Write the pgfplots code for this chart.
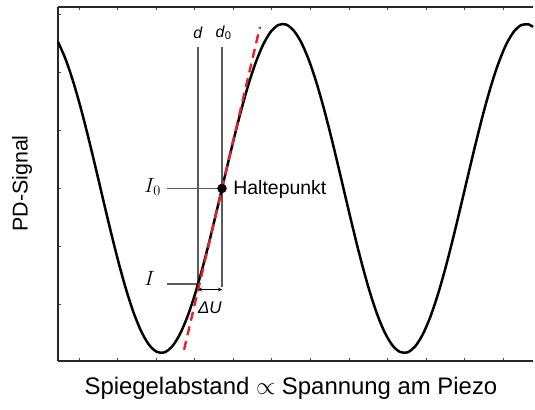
\documentclass[border=0pt]{standalone}
\usepackage{fontspec}
\setmainfont{Liberation Sans}
\usepackage{pgfplots}
\pgfplotsset{compat=1.18}

\definecolor{guide}{HTML}{5A5A5A}
\definecolor{tangentred}{HTML}{E8202A}

\begin{document}
\begin{tikzpicture}
\begin{axis}[
  at={(0,0)}, anchor=south west,
  scale only axis, width=475bp, height=354bp,
  xmin=0, xmax=15.64, ymin=-1.049, ymax=1.103,
  axis x line*=box, axis y line*=left,
  axis line style={line width=1.3pt, black!85, -},
  xtick={0.691,1.960,3.229,4.498,5.767,7.036,8.305,9.574,10.843,12.112,13.381,14.650},
  ytick={-0.705,-0.3525,0,0.3525,0.705,1.0575},
  xticklabels={}, yticklabels={},
  tick align=inside,
  major tick length=3bp,
  tick style={line width=0.5pt, black!70},
  clip=false,
  xlabel={Spiegelabstand $\propto$ Spannung am Piezo},
  ylabel={PD-Signal},
  x label style={at={(axis cs:7.67,-1.213)}, anchor=center, font=\fontsize{24}{28}\selectfont},
  y label style={at={(axis cs:-1.185,0.03)}, anchor=center, font=\fontsize{21.5}{26}\selectfont},
]
% guide lines for d, d0, I and I0
\addplot[guide, line width=1.5pt] coordinates {(4.609,0.860)(4.609,-0.581)};
\addplot[guide, line width=1.5pt] coordinates {(5.4,0.860)(5.4,-0.600)};
\addplot[guide, line width=1.5pt] coordinates {(3.588,0)(5.4,0)};
\addplot[guide, line width=1.5pt] coordinates {(3.588,-0.581)(4.609,-0.581)};

% interference signal
\addplot[black, line width=2.5pt, smooth] coordinates {
(0,0.8910)(0.25,0.7853)(0.5,0.6494)(0.75,0.4886)(1,0.3090)(1.25,0.1175)(1.5,-0.0785)(1.75,-0.2714)
(2,-0.4540)(2.25,-0.6191)(2.5,-0.7604)(2.75,-0.8725)(3,-0.9511)(3.25,-0.9931)(3.5,-0.9969)(3.75,-0.9625)
(4,-0.8910)(4.25,-0.7853)(4.5,-0.6494)(4.75,-0.4886)(5,-0.3090)(5.25,-0.1175)(5.5,0.0785)(5.75,0.2714)
(6,0.4540)(6.25,0.6191)(6.5,0.7604)(6.75,0.8725)(7,0.9511)(7.25,0.9931)(7.5,0.9969)(7.75,0.9625)
(8,0.8910)(8.25,0.7853)(8.5,0.6494)(8.75,0.4886)(9,0.3090)(9.25,0.1175)(9.5,-0.0785)(9.75,-0.2714)
(10,-0.4540)(10.25,-0.6191)(10.5,-0.7604)(10.75,-0.8725)(11,-0.9511)(11.25,-0.9931)(11.5,-0.9969)(11.75,-0.9625)
(12,-0.8910)(12.25,-0.7853)(12.5,-0.6494)(12.75,-0.4886)(13,-0.3090)(13.25,-0.1175)(13.5,0.0785)(13.75,0.2714)
(14,0.4540)(14.25,0.6191)(14.5,0.7604)(14.75,0.8725)(15,0.9511)(15.25,0.9931)(15.5,0.9969)(15.64,0.9820)
};

% linear approximation at the lock point
\addplot[tangentred, line width=2.4pt, dash pattern=on 9bp off 6bp] coordinates {(4.15,-0.981)(6.65,0.982)};

% lock point
\addplot[only marks, mark=*, mark size=4.5bp, black] coordinates {(5.4,0)};

% voltage step
\addplot[black, line width=0.8pt, <->, >=stealth] coordinates {(4.609,-0.615)(5.4,-0.615)};

\node[font=\fontsize{16}{18}\selectfont] at (axis cs:4.609,0.945) {\textit{d}};
\node[font=\fontsize{16}{18}\selectfont] at (axis cs:5.45,0.945) {\textit{d}\textsubscript{0}};
\node[anchor=base west, font=\fontsize{20}{22}\selectfont] at (axis cs:2.73,-0.025) {$I_0$};
\node[anchor=base west, font=\fontsize{20}{22}\selectfont] at (axis cs:2.73,-0.587) {$I$};
\node[anchor=base west, font=\fontsize{19.5}{22}\selectfont] at (axis cs:5.66,-0.035) {Haltepunkt};
\node[font=\fontsize{17}{19}\selectfont] at (axis cs:5.0,-0.726) {\textit{ΔU}};
\end{axis}
\pgfresetboundingbox
\path[use as bounding box] (-58bp,-49bp) rectangle (477bp,361bp);
\end{tikzpicture}
\end{document}
